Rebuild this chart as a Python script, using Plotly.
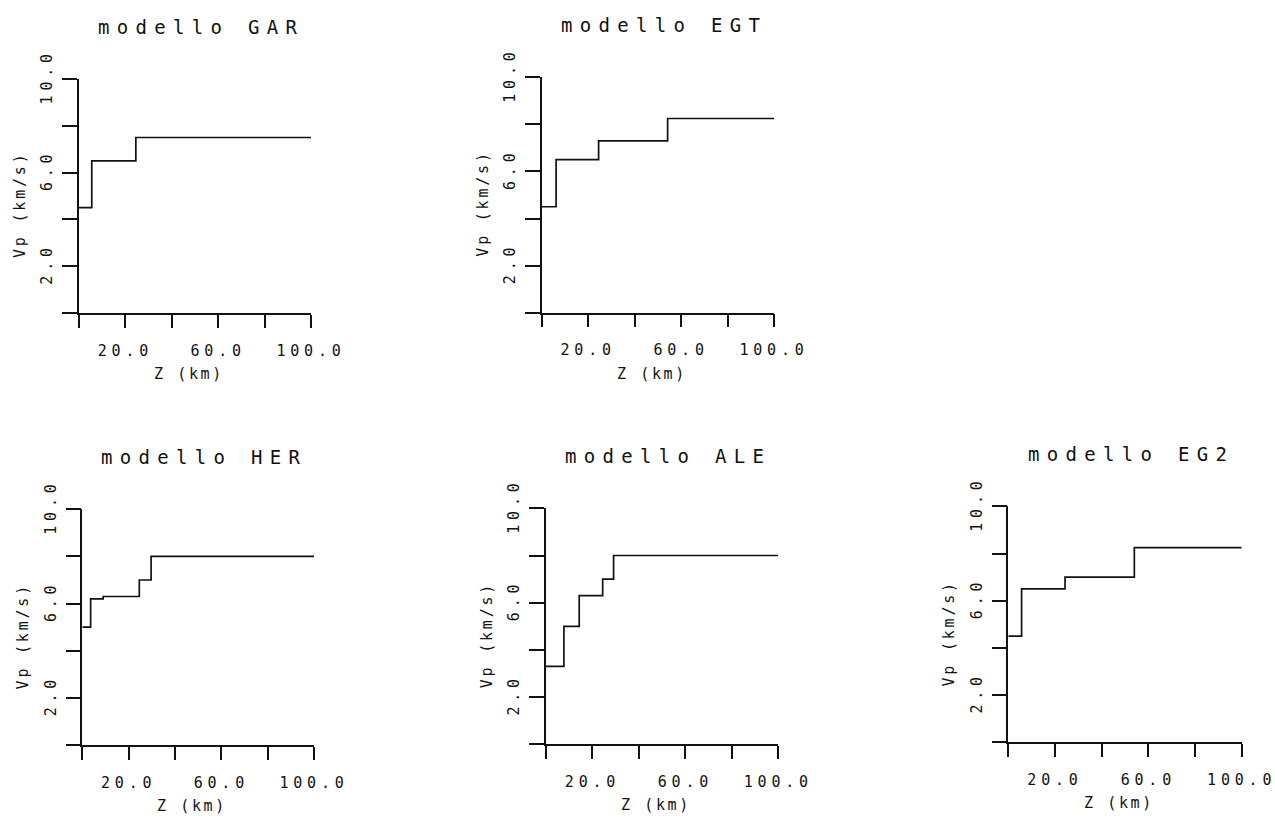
import plotly.graph_objects as go

# ---------------- data ----------------
GAR_z = [0.0, 5.5, 24.5, 100.0]
GAR_vp = [4.5, 6.5, 7.5, 7.5]

EGT_z = [0.0, 6.2, 24.5, 54.2, 100.0]
EGT_vp = [4.5, 6.5, 7.3, 8.25, 8.25]

HER_z = [0.0, 3.6, 9.0, 24.6, 29.7, 100.0]
HER_vp = [5.0, 6.2, 6.3, 7.0, 8.0, 8.0]

ALE_z = [0.0, 7.7, 14.3, 24.4, 29.1, 100.0]
ALE_vp = [3.3, 5.0, 6.3, 7.0, 8.0, 8.0]

EG2_z = [0.0, 5.7, 24.3, 54.0, 100.0]
EG2_vp = [4.5, 6.5, 7.0, 8.25, 8.25]

model_names = ["GAR", "EGT", "HER", "ALE", "EG2"]
title_prefix = "modello"
x_title = "Z (km)"
y_title = "Vp (km/s)"
x_tick_values = [0, 20, 40, 60, 80, 100]
x_tick_labels = ["", "20.0", "", "60.0", "", "100.0"]
y_tick_values = [0, 2, 4, 6, 8, 10]
y_tick_labels = ["", "2.0", "", "6.0", "", "10.0"]

series = [(GAR_z, GAR_vp), (EGT_z, EGT_vp), (HER_z, HER_vp),
          (ALE_z, ALE_vp), (EG2_z, EG2_vp)]

# ---------------- layout geometry (pixels) ----------------
W, H = 1275, 819
boxes = [  # left, top, right, bottom of each plot area
    (79.0, 79.0, 311.0, 313.0),
    (541.7, 77.3, 774.0, 312.7),
    (82.3, 509.3, 314.0, 745.0),
    (546.0, 508.3, 778.3, 744.3),
    (1008.3, 506.3, 1241.7, 742.3),
]

FONT = "DejaVu Sans Mono"
INK = "#111111"


def spaced(t, px):
    if not t:
        return ""
    return f'<span style="letter-spacing:{px}px">{t}</span>'


def px_x(v):
    return v / W


def px_y(v):
    return 1 - v / H


fig = go.Figure()
layout = dict(
    width=W, height=H, margin=dict(l=0, r=0, t=0, b=0, pad=0, autoexpand=False),
    paper_bgcolor="white", plot_bgcolor="white", showlegend=False,
    annotations=[],
)

for i, ((z, vp), name, (l, t, r, b)) in enumerate(zip(series, model_names, boxes)):
    n = "" if i == 0 else str(i + 1)
    fig.add_trace(go.Scatter(
        x=z, y=vp, mode="lines", line=dict(color=INK, width=1.7, shape="hv"),
        xaxis="x" + n, yaxis="y" + n, hoverinfo="skip",
    ))
    layout["xaxis" + n] = dict(
        domain=[px_x(l), px_x(r)], anchor="y" + n, range=[0, 100],
        automargin=False, ticklabeloverflow="allow",
        showgrid=False, zeroline=False, showline=True, linecolor=INK, linewidth=1.5,
        ticks="outside", ticklen=13, tickwidth=1.5, tickcolor=INK,
        tickvals=x_tick_values, ticktext=[spaced(s, 4.8) for s in x_tick_labels],
        tickfont=dict(family=FONT, size=15, color=INK), ticklabelstandoff=10,
    )
    layout["yaxis" + n] = dict(
        domain=[px_y(b), px_y(t)], anchor="x" + n, range=[0, 10],
        automargin=False, ticklabeloverflow="allow",
        showgrid=False, zeroline=False, showline=True, linecolor=INK, linewidth=1.5,
        ticks="outside", ticklen=15, tickwidth=1.5, tickcolor=INK,
        tickvals=y_tick_values, ticktext=[spaced(s, 4.8) for s in y_tick_labels],
        tickangle=-90,
        tickfont=dict(family=FONT, size=15, color=INK), ticklabelstandoff=4,
    )
    cx = (l + r) / 2
    cy = (t + b) / 2
    layout["annotations"].append(dict(
        text=spaced(f"{title_prefix} {name}", 7.3), xref="paper", yref="paper",
        x=px_x(cx + 6), y=px_y(t - 52), xanchor="center", yanchor="middle",
        showarrow=False, font=dict(family=FONT, size=19, color=INK),
    ))
    layout["annotations"].append(dict(
        text=spaced(x_title, 2.6), xref="paper", yref="paper",
        x=px_x(cx - 6), y=px_y(b + 61), xanchor="center", yanchor="middle",
        showarrow=False, font=dict(family=FONT, size=15, color=INK),
    ))
    layout["annotations"].append(dict(
        text=spaced(y_title, 2.8), xref="paper", yref="paper", textangle=-90,
        x=px_x(l - 59), y=px_y(cy + 9), xanchor="center", yanchor="middle",
        showarrow=False, font=dict(family=FONT, size=15, color=INK),
    ))

fig.update_layout(**layout)
fig.write_html("out.html")
